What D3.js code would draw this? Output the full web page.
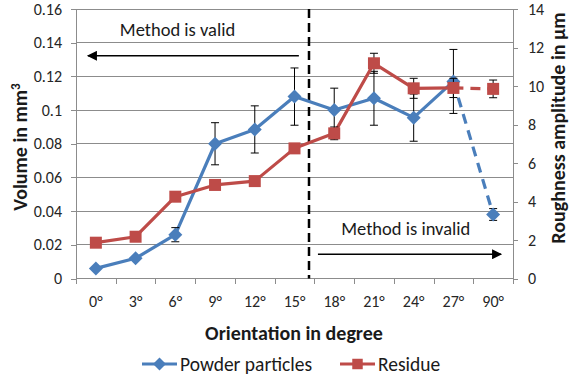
<!DOCTYPE html>
<html>
<head>
<meta charset="utf-8">
<script src="https://cdn.jsdelivr.net/npm/d3@7/dist/d3.min.js"></script>
<style>
  html, body { margin: 0; padding: 0; background: #fff; }
  svg { display: block; font-family: Carlito, Lato, "Liberation Sans", sans-serif; }
</style>
</head>
<body>
<svg id="chart" width="574" height="376"></svg>
<script>
// Orientation categories
const categories = ["0°", "3°", "6°", "9°", "12°", "15°", "18°", "21°", "24°", "27°", "90°"];
// Powder particles: volume in mm³ (left axis) with error
const powder = [0.006, 0.012, 0.026, 0.080, 0.0885, 0.108, 0.100, 0.107, 0.0955, 0.117, 0.038];
const powderErr = [0, 0, 0.0042, 0.0125, 0.014, 0.017, 0.013, 0.016, 0.014, 0.019, 0.0035];
// Residue: roughness amplitude in µm (right axis) with error
const residue = [1.86, 2.17, 4.25, 4.86, 5.06, 6.76, 7.54, 11.18, 9.88, 9.9, 9.85];
const residueErr = [0, 0, 0, 0, 0, 0, 0.33, 0.52, 0.52, 0.5, 0.46];
// Axis ticks
const leftTicks = [0, 0.02, 0.04, 0.06, 0.08, 0.1, 0.12, 0.14, 0.16];
const leftTickLabels = ["0", "0.02", "0.04", "0.06", "0.08", "0.1", "0.12", "0.14", "0.16"];
const rightTicks = [0, 2, 4, 6, 8, 10, 12, 14];

const blue = "#4a7ebb", red = "#be4b48", grid = "#8c8c8c", ink = "#1a1a1a";
const m = { left: 76, right: 513, top: 9, bottom: 278.5 };

const svg = d3.select("#chart");

// Band position scale over category slots (0..n)
const xPos = d3.scaleLinear().domain([0, categories.length]).range([m.left, m.right]);
const xc = i => xPos(i + 0.5);
const yL = d3.scaleLinear().domain([0, 0.16]).range([m.bottom, m.top]);
const yR = d3.scaleLinear().domain([0, 14]).range([m.bottom, m.top]);

// Diamond marker: a square turned 45°
const diamond = {
  draw(ctx, size) {
    const r = Math.sqrt(size / 2);
    ctx.moveTo(0, -r); ctx.lineTo(r, 0); ctx.lineTo(0, r); ctx.lineTo(-r, 0); ctx.closePath();
  }
};

// Horizontal gridlines (left axis)
svg.append("g").selectAll("line").data(leftTicks.slice(1)).join("line")
  .attr("x1", m.left).attr("x2", m.right)
  .attr("y1", d => yL(d)).attr("y2", d => yL(d))
  .attr("stroke", grid).attr("stroke-width", 1).attr("shape-rendering", "crispEdges");

// Left axis
const gL = svg.append("g").attr("transform", `translate(${m.left},0)`)
  .call(d3.axisLeft(yL).tickValues(leftTicks).tickFormat((d, i) => leftTickLabels[i]).tickSize(5).tickPadding(9));
// Right axis
const gR = svg.append("g").attr("transform", `translate(${m.right},0)`)
  .call(d3.axisRight(yR).tickValues(rightTicks).tickSize(5).tickPadding(10));
// Bottom axis with ticks at category boundaries
const gB = svg.append("g").attr("transform", `translate(0,${m.bottom})`)
  .call(d3.axisBottom(xPos).tickValues(d3.range(categories.length + 1)).tickFormat("").tickSize(5));

[gL, gR, gB].forEach(g => {
  g.select(".domain").attr("stroke", grid).attr("stroke-width", 1).attr("shape-rendering", "crispEdges");
  g.selectAll(".tick line").attr("stroke", grid).attr("shape-rendering", "crispEdges");
  g.selectAll(".tick text").attr("fill", "#262626").attr("font-size", 16).attr("font-family", "Carlito, Lato, sans-serif");
});
gB.select(".domain").attr("d", `M${m.left},0H${m.right}`);
gL.select(".domain").attr("d", `M0,${m.top}V${m.bottom}`);
gR.select(".domain").attr("d", `M0,${m.top}V${m.bottom}`);

// Category labels
svg.append("g").selectAll("text").data(categories).join("text")
  .attr("x", (d, i) => xc(i)).attr("y", 307)
  .attr("text-anchor", "middle").attr("font-size", 16).attr("fill", "#262626")
  .text(d => d);

// Axis titles
svg.append("text").attr("x", 294).attr("y", 340).attr("text-anchor", "middle")
  .attr("font-size", 20).attr("font-weight", "bold").attr("fill", ink)
  .text("Orientation in degree");
svg.append("text").attr("transform", "translate(27,147) rotate(-90)").attr("text-anchor", "middle")
  .attr("font-size", 20).attr("font-weight", "bold").attr("fill", ink)
  .html('Volume in mm<tspan dy="-7" font-size="13">3</tspan>');
svg.append("text").attr("transform", "translate(565,128) rotate(-90)").attr("text-anchor", "middle")
  .attr("font-size", 20).attr("font-weight", "bold").attr("fill", ink)
  .text("Roughness amplitude in µm");

// Validity boundary and annotations
const boundary = 5.865;
svg.append("line").attr("x1", xPos(boundary)).attr("x2", xPos(boundary))
  .attr("y1", yL(0.16)).attr("y2", yL(0))
  .attr("stroke", "#000").attr("stroke-width", 2.5).attr("stroke-dasharray", "9,5");

const defs = svg.append("defs");
defs.append("marker").attr("id", "ah").attr("viewBox", "0 0 10 10").attr("refX", 9).attr("refY", 5)
  .attr("markerWidth", 14).attr("markerHeight", 10).attr("markerUnits", "userSpaceOnUse")
  .attr("orient", "auto")
  .append("path").attr("d", "M0,0 L10,5 L0,10 Z").attr("fill", "#000");

svg.append("line").attr("x1", xPos(5.61)).attr("x2", xPos(0.3))
  .attr("y1", yL(0.1322)).attr("y2", yL(0.1322))
  .attr("stroke", "#000").attr("stroke-width", 1.5).attr("marker-end", "url(#ah)");
svg.append("text").attr("x", xPos(2.555)).attr("y", yL(0.1437)).attr("text-anchor", "middle")
  .attr("font-size", 18.5).attr("fill", ink).text("Method is valid");

svg.append("line").attr("x1", xPos(6.09)).attr("x2", xPos(10.7))
  .attr("y1", yL(0.0144)).attr("y2", yL(0.0144))
  .attr("stroke", "#000").attr("stroke-width", 1.5).attr("marker-end", "url(#ah)");
svg.append("text").attr("x", xPos(8.3)).attr("y", yL(0.0258)).attr("text-anchor", "middle")
  .attr("font-size", 18.5).attr("fill", ink).text("Method is invalid");

// Series drawing helper
const last = categories.length - 1;
function drawSeries(values, errs, y, color, shape, size) {
  const g = svg.append("g");
  const line = d3.line().x(d => xc(d.i)).y(d => y(d.v));
  const pts = values.map((v, i) => ({ v, i, e: errs[i] }));
  g.append("path").attr("d", line(pts.slice(0, last)))
    .attr("fill", "none").attr("stroke", color).attr("stroke-width", 3.2).attr("stroke-linejoin", "round");
  g.append("path").attr("d", line(pts.slice(last - 1)))
    .attr("fill", "none").attr("stroke", color).attr("stroke-width", 3.2).attr("stroke-dasharray", "10,7");
  const eb = g.append("g").selectAll("g").data(pts.filter(d => d.e > 0)).join("g")
    .attr("stroke", "#000").attr("stroke-width", 1);
  eb.append("line").attr("x1", d => xc(d.i)).attr("x2", d => xc(d.i))
    .attr("y1", d => y(d.v + d.e)).attr("y2", d => y(d.v - d.e));
  eb.append("line").attr("x1", d => xc(d.i) - 4).attr("x2", d => xc(d.i) + 4)
    .attr("y1", d => y(d.v + d.e)).attr("y2", d => y(d.v + d.e));
  eb.append("line").attr("x1", d => xc(d.i) - 4).attr("x2", d => xc(d.i) + 4)
    .attr("y1", d => y(d.v - d.e)).attr("y2", d => y(d.v - d.e));
  g.append("g").selectAll("path").data(pts).join("path")
    .attr("d", d3.symbol().type(shape).size(size))
    .attr("transform", d => `translate(${xc(d.i)},${y(d.v)})`)
    .attr("fill", color);
}
drawSeries(powder, powderErr, yL, blue, diamond, 98);
drawSeries(residue, residueErr, yR, red, d3.symbolSquare, 144);

// Legend
const legend = [
  { name: "Powder particles", color: blue, shape: diamond, size: 85, x: 142 },
  { name: "Residue", color: red, shape: d3.symbolSquare, size: 110, x: 340 }
];
const lg = svg.append("g").selectAll("g").data(legend).join("g")
  .attr("transform", d => `translate(${d.x},364)`);
lg.append("line").attr("x1", 0).attr("x2", 35).attr("stroke", d => d.color).attr("stroke-width", 3);
lg.append("path").attr("d", d => d3.symbol().type(d.shape).size(d.size)()).attr("transform", "translate(17.5,0)")
  .attr("fill", d => d.color);
lg.append("text").attr("x", 38).attr("y", 6.5).attr("font-size", 19.5).attr("fill", ink).text(d => d.name);
</script>
</body>
</html>
